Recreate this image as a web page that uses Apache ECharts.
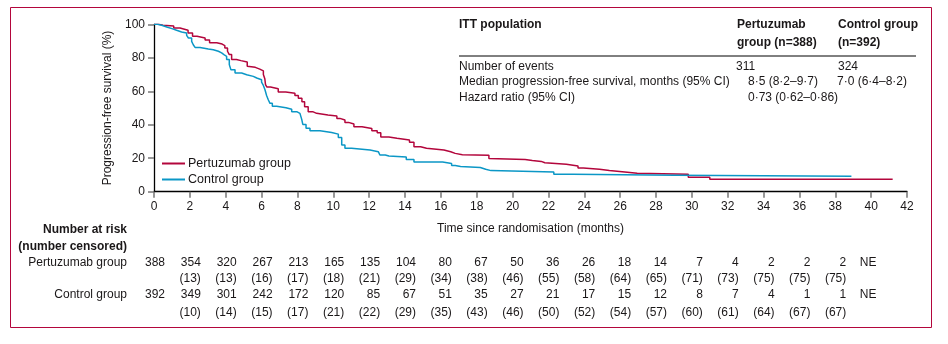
<!DOCTYPE html>
<html><head><meta charset="utf-8">
<script src="https://cdn.jsdelivr.net/npm/echarts@6/dist/echarts.min.js"></script>
<style>html,body{margin:0;padding:0;background:#fff}#c{width:948px;height:344px}</style>
</head><body><div id="c"></div>
<script>
// ---- data ----
const pertTime = [0,0.25,0.5,1.1,1.45,1.65,1.9,2.15,2.4,2.85,3.1,3.5,3.8,3.95,4.1,4.2,4.33,4.6,4.85,5.2,5.3,5.65,5.9,6.1,6.18,6.22,6.3,6.5,6.93,7.35,7.86,8.05,8.25,8.4,8.6,8.85,9.07,9.7,10.2,10.37,10.65,10.85,11.15,11.6,12.15,12.45,12.65,13.1,13.55,14.25,14.5,14.87,15.2,16.17,16.55,16.8,17.2,18.68,18.75,20.7,21.1,21.6,21.8,23.0,23.65,23.95,24.85,25.4,26.4,26.95,29.8,31.0,41.2];
const pertSurv = [100,99.5,99,97.8,97.2,96.4,94.8,92.8,91.8,90.6,89,88.2,87.3,85.8,83.9,81.9,79,78.3,77.5,75,74.3,73.2,72.2,70,67.5,64,62.5,61.5,59.5,58.8,57.5,55.8,53.8,50.8,47.8,46.8,45.8,45.2,43.8,42.8,41.4,40.4,38.8,37.8,36.4,35.2,32.7,31.9,30.9,29.6,26.9,25.9,24.9,23.9,22.9,22.1,21.7,19.9,19.3,18.7,18.1,17.3,16.4,15.4,14.2,13.4,12.6,11.6,11.0,10.4,8.6,7.4,7.4];
const ctrlTime = [0,0.2,0.43,0.71,1.0,1.26,1.54,1.82,1.92,2.1,2.19,2.29,2.57,3.03,3.31,3.59,3.77,3.9,4.05,4.2,4.29,4.52,4.89,5.17,5.54,5.73,6.0,6.1,6.19,6.28,6.38,6.47,6.6,6.84,7.36,7.68,7.96,8.14,8.24,8.3,8.48,8.7,9.26,9.91,10.28,10.47,10.65,11.02,12.05,12.51,12.6,12.9,13.1,14.07,14.5,16.1,16.6,16.8,17.1,18.2,18.5,18.8,22.3,23.35,29.06,38.9];
const ctrlSurv = [100,99.4,98.4,97.4,96.4,95.4,94.8,93.4,91.8,89.8,87.8,86.2,85.2,84.8,83.9,82.9,81.9,80.9,78.9,75.9,72.9,70.9,69.9,68.9,67.9,66.9,65.5,63.5,60.9,57.5,54.8,52.8,51.0,50.2,49.2,47.8,46.8,45.8,43.2,40.2,37.9,36.4,35.4,34.4,32.4,27.9,25.9,24.9,23.9,22.9,21.9,21.3,20.7,19.3,17.7,16.9,15.7,15.1,14.5,13.4,12.6,11.8,10.4,9.8,9.2,9.2];

const riskTimes = [0,2,4,6,8,10,12,14,16,18,20,22,24,26,28,30,32,34,36,38];
const pertRisk = [388,354,320,267,213,165,135,104,80,67,50,36,26,18,14,7,4,2,2,2];
const pertCens = [null,13,13,16,17,18,21,29,34,38,46,55,58,64,65,71,73,75,75,75];
const ctrlRisk = [392,349,301,242,172,120,85,67,51,35,27,21,17,15,12,8,7,4,1,1];
const ctrlCens = [null,10,14,15,17,21,22,29,35,43,46,50,52,54,57,60,61,64,67,67];
const neTime = 40;

const seriesNames = ['Pertuzumab group','Control group'];
const tableHeader = ['ITT population','Pertuzumab','group (n=388)','Control group','(n=392)'];
const tableRows = ['Number of events','Median progression-free survival, months (95% CI)','Hazard ratio (95% CI)'];
const tablePert = ['311','8·5 (8·2–9·7)','0·73 (0·62–0·86)'];
const tableCtrl = ['324','7·0 (6·4–8·2)',''];

// ---- chart ----
const RED = '#b3063c', BLUE = '#0b97c6', INK = '#1a1718';
const FONT = '"Liberation Sans", Arial, sans-serif';
const chart = echarts.init(document.getElementById('c'), null, {renderer:'canvas'});
const axisCommon = {
  axisLine:{show:true, lineStyle:{color:'#000', width:1.3}},
  axisTick:{show:true, length:6, lineStyle:{color:'#777', width:1.5}},
  splitLine:{show:false},
  axisLabel:{color:INK, fontSize:12, fontFamily:FONT}
};
chart.setOption({
  animation:false,
  backgroundColor:'#fff',
  grid:{left:154, right:41, top:24.3, bottom:152.3, containLabel:false},
  xAxis:Object.assign({type:'value', min:0, max:42, interval:2,
    name:'Time since randomisation (months)', nameLocation:'middle', nameGap:31,
    nameTextStyle:{color:INK, fontSize:12, fontFamily:FONT}}, axisCommon,
    {axisLabel:{color:INK, fontSize:12, fontFamily:FONT, margin:9}}),
  yAxis:Object.assign({type:'value', min:0, max:100, interval:20,
    name:'Progression-free survival (%)', nameLocation:'middle', nameGap:37, nameRotate:90,
    nameTextStyle:{color:INK, fontSize:12, fontFamily:FONT}}, axisCommon,
    {axisLabel:{color:INK, fontSize:12, fontFamily:FONT, margin:9}}),
  legend:{orient:'vertical', left:157, top:152, itemWidth:23, itemHeight:2, itemGap:3, icon:'rect',
    data:seriesNames, textStyle:{color:INK, fontSize:12.5, fontFamily:FONT, padding:[0,0,0,-2]}},
  series:[
    {name:seriesNames[0], type:'line', step:'end', showSymbol:false, color:RED,
     lineStyle:{color:RED, width:1.5}, data:pertTime.map((t,i)=>[t,pertSurv[i]])},
    {name:seriesNames[1], type:'line', step:'end', showSymbol:false, color:BLUE,
     lineStyle:{color:BLUE, width:1.5}, data:ctrlTime.map((t,i)=>[t,ctrlSurv[i]])}
  ]
});

const g = [];
function txt(x,y,s,opt){
  opt = opt||{};
  g.push({type:'text', x:x, y:y, silent:true, style:{text:s, fill:INK, fontSize:12, fontFamily:FONT,
    fontWeight:opt.bold?'bold':'normal', textAlign:opt.align||'left', textVerticalAlign:'middle'}});
}
// frame
g.push({type:'rect', shape:{x:10.5, y:7.5, width:921, height:320}, style:{fill:'none', stroke:RED, lineWidth:1}, silent:true, z:-1});
// stats table
txt(459,25,tableHeader[0],{bold:true});
txt(737,25,tableHeader[1],{bold:true});
txt(737,43,tableHeader[2],{bold:true});
txt(838,25,tableHeader[3],{bold:true});
txt(838,43,tableHeader[4],{bold:true});
g.push({type:'line', shape:{x1:459, y1:56, x2:916, y2:56}, style:{stroke:'#000', lineWidth:1}, silent:true});
const rowY = [67,82,98];
tableRows.forEach((r,i)=>txt(459,rowY[i],r));
txt(736,rowY[0],tablePert[0]); txt(838,rowY[0],tableCtrl[0]);
txt(748,rowY[1],tablePert[1]); txt(837,rowY[1],tableCtrl[1]);
txt(748,rowY[2],tablePert[2]);
// risk table
txt(127,230,'Number at risk',{bold:true,align:'right'});
txt(127,247,'(number censored)',{bold:true,align:'right'});
txt(127,263,seriesNames[0],{align:'right'});
txt(127,295,seriesNames[1],{align:'right'});
riskTimes.forEach((t,i)=>{
  const x = chart.convertToPixel({xAxisIndex:0}, t) + 11;
  txt(x,263,String(pertRisk[i]),{align:'right'});
  if(pertCens[i]!=null) txt(x,279,'('+pertCens[i]+')',{align:'right'});
  txt(x,295,String(ctrlRisk[i]),{align:'right'});
  if(ctrlCens[i]!=null) txt(x,313,'('+ctrlCens[i]+')',{align:'right'});
});
const neX = chart.convertToPixel({xAxisIndex:0}, neTime) - 3;
txt(neX,263,'NE',{align:'center'});
txt(neX,295,'NE',{align:'center'});
chart.setOption({graphic:g});
</script></body></html>
